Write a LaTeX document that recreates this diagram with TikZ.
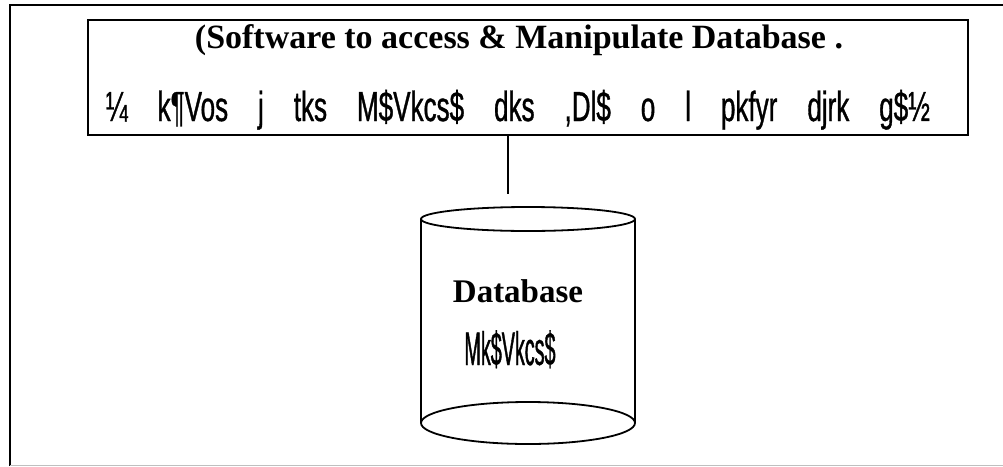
\documentclass[tikz,border=0pt]{standalone}
\usepackage{fontspec}
\setmainfont{Liberation Serif}
\newfontfamily\krutiline[FakeStretch=0.62,FakeBold=0.8]{Liberation Sans}
\newfontfamily\krutilabel[FakeStretch=0.42,FakeBold=0.8]{Liberation Sans}
\usetikzlibrary{positioning}

\begin{document}
\begin{tikzpicture}[x=1pt, y=-1pt,
  box/.style = {draw, line width=2.6pt, minimum width=880pt, minimum height=115pt, inner sep=0pt},
  eng/.style = {font=\fontsize{34}{40}\selectfont\bfseries, inner sep=0pt, anchor=base},
  hin/.style = {font=\krutiline\fontsize{42}{46}\selectfont, inner sep=0pt, anchor=base},
  can/.style = {line width=1.8pt}]

\useasboundingbox (0,0) rectangle (1003,466);

% outer frame
\draw[line width=2.5pt] (10,466) -- (10,5) -- (1003,5);
\draw[black!25, line width=1pt] (10,465) -- (1003,465);

\node[box] (soft) at (528,77.5) {};
\node[eng] (eng) at (519,48) {(Software to access \& Manipulate Database .};
\node[hin] (hin) at (518,121) {\makebox[824pt][s]{¼ k¶Vos j tks M\$Vkcs\$ dks ,Dl\$ o l pkfyr djrk g\$½}};

% database can
\coordinate (top) at (528,219);
\coordinate (bot) at (528,423);
\draw[can] (top) ellipse [x radius=107pt, y radius=12pt];
\draw[can] (bot) ellipse [x radius=107pt, y radius=21pt];
\draw[can] ([xshift=-107pt]top) -- ([xshift=-107pt]bot);
\draw[can] ([xshift=107pt]top) -- ([xshift=107pt]bot);

\node[eng, font=\fontsize{33}{40}\selectfont\bfseries] (dbname) at (518,302) {Database};
\node[hin, font=\krutilabel\fontsize{47}{52}\selectfont] (dbhin) at (510,365) {Mk\$Vkcs\$};

\coordinate (link) at (508,194);
\draw[can] (soft.south -| link) -- (link);

\end{tikzpicture}
\end{document}
